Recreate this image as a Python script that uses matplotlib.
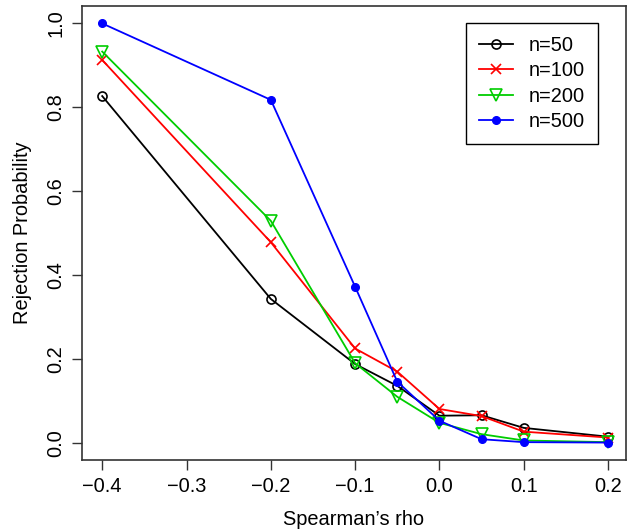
import matplotlib
matplotlib.use("Agg")
import matplotlib.pyplot as plt

rho = [-0.4, -0.2, -0.1, -0.05, 0.0, 0.05, 0.1, 0.2]
p_n50 = [0.826, 0.343, 0.188, 0.136, 0.065, 0.066, 0.036, 0.015]
p_n100 = [0.912, 0.478, 0.225, 0.170, 0.081, 0.064, 0.027, 0.013]
p_n200 = [0.932, 0.529, 0.190, 0.110, 0.048, 0.021, 0.006, 0.002]
p_n500 = [0.999, 0.817, 0.372, 0.146, 0.053, 0.009, 0.002, 0.001]
labels = ["n=50", "n=100", "n=200", "n=500"]

xticks = [-0.4, -0.3, -0.2, -0.1, 0.0, 0.1, 0.2]
yticks = [0.0, 0.2, 0.4, 0.6, 0.8, 1.0]

plt.rcParams["font.family"] = ["Liberation Sans", "DejaVu Sans"]
plt.rcParams["axes.unicode_minus"] = True

fig = plt.figure(figsize=(6.34, 5.31), dpi=100)
ax = fig.add_axes([0.1293, 0.1337, 0.8581, 0.855])

fs = 14.4
ax.plot(rho, p_n50, color="black", lw=1.3, marker="o", mfc="none", mec="black",
        ms=6.5, mew=1.2, label=labels[0])
ax.plot(rho, p_n100, color="red", lw=1.3, marker="x", ms=7.5, mew=1.2, label=labels[1])
ax.plot(rho, p_n200, color="#00cd00", lw=1.3, marker="v", mfc="none", mec="#00cd00",
        ms=8, mew=1.2, label=labels[2])
ax.plot(rho, p_n500, color="blue", lw=1.3, marker="o", ms=5.5, label=labels[3])

ax.set_xlim(-0.424, 0.2213)
ax.set_ylim(-0.0405, 1.0405)
ax.set_xticks(xticks)
ax.set_xticklabels([f"{t:.1f}".replace("-", "\u2212") for t in xticks], fontsize=fs)
ax.set_yticks(yticks)
ax.set_yticklabels([f"{t:.1f}" for t in yticks], fontsize=fs, rotation=90, va="center")
ax.tick_params(direction="out", length=7, width=1, color="#333333", pad=5)

for s in ax.spines.values():
    s.set_color("#333333")
    s.set_linewidth(1.2)

ax.set_xlabel("Spearman\u2019s rho", fontsize=fs, labelpad=10)
ax.set_ylabel("Rejection Probability", fontsize=fs, labelpad=10)

leg = ax.legend(loc="upper right", bbox_to_anchor=(0.949, 0.9626), borderaxespad=0,
                fontsize=fs, fancybox=False, edgecolor="black", framealpha=1,
                handlelength=1.7, labelspacing=0.32, borderpad=0.65, handletextpad=0.8)
leg.get_frame().set_linewidth(1.0)

fig.savefig("out.png", dpi=100)
